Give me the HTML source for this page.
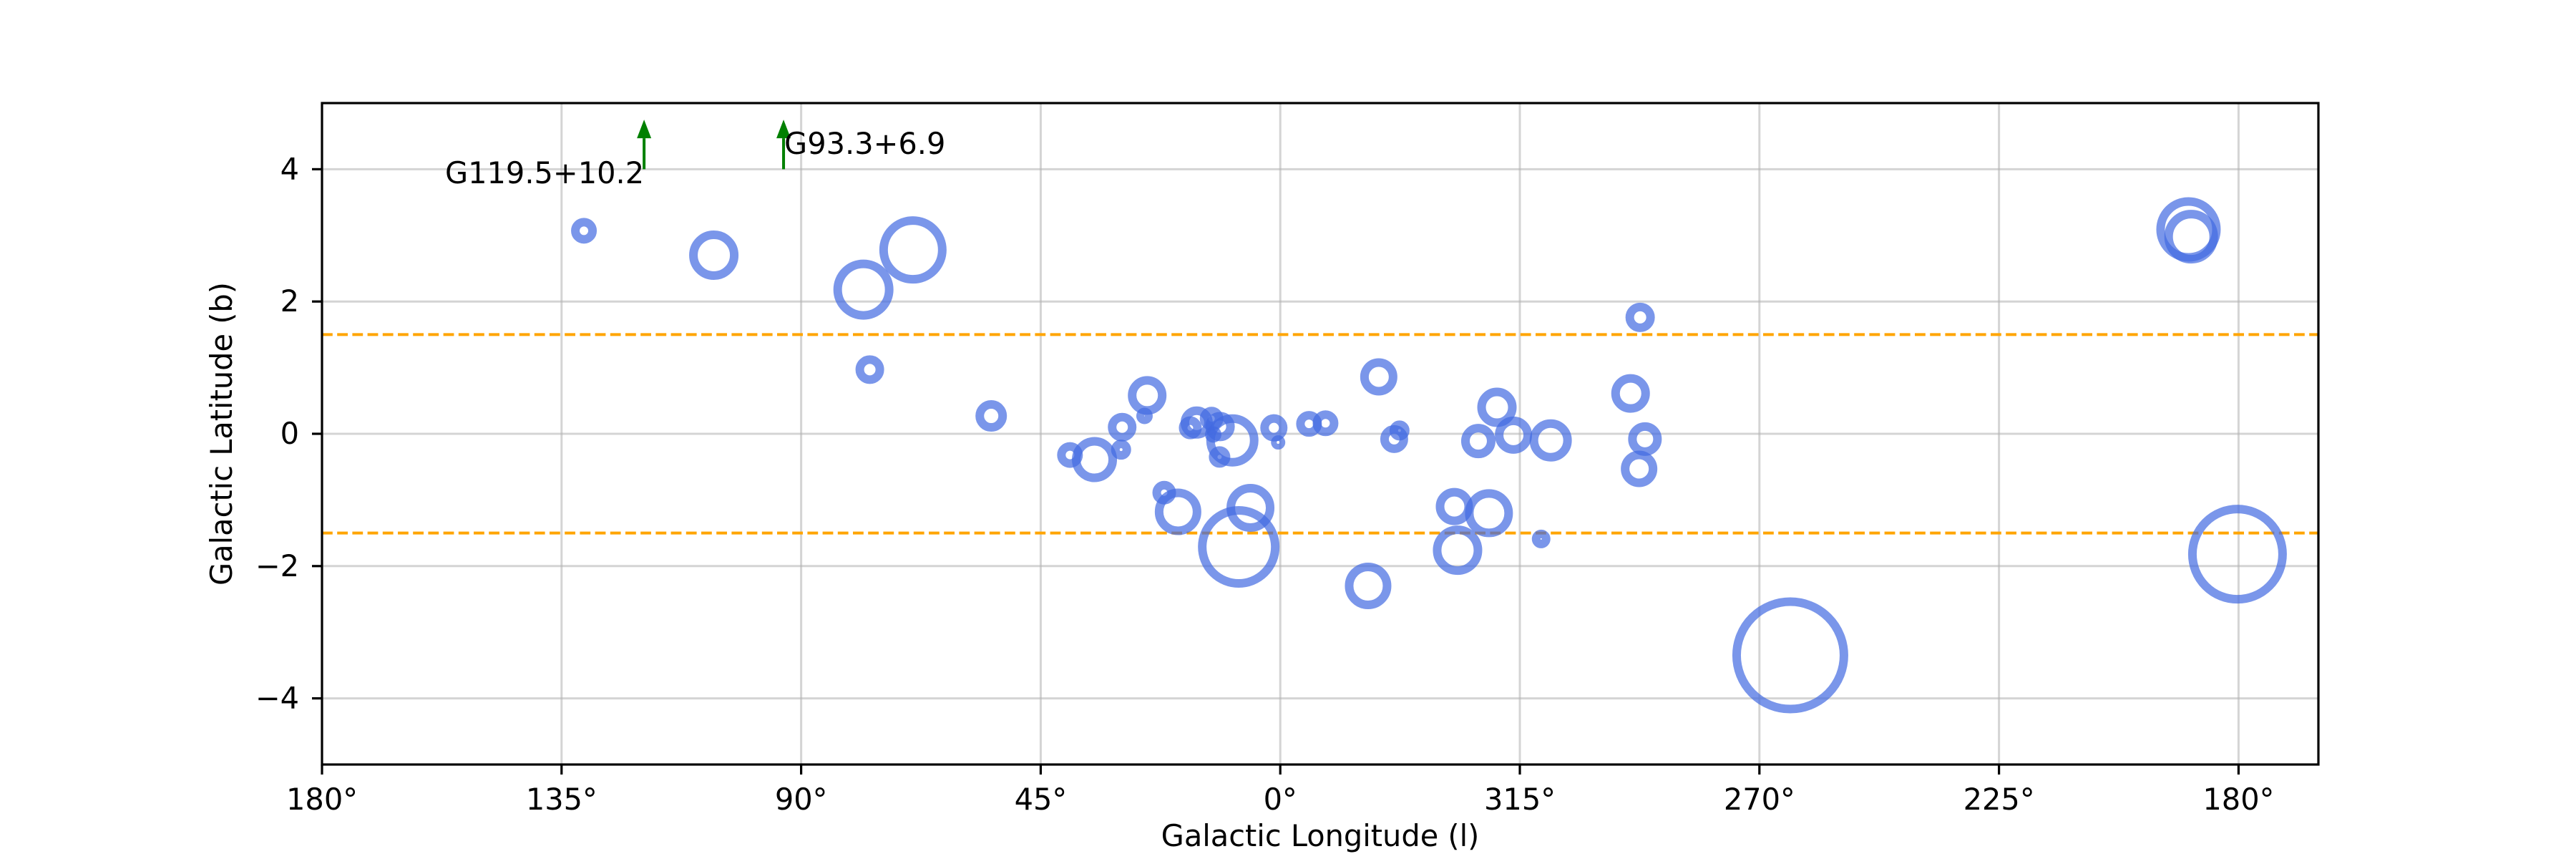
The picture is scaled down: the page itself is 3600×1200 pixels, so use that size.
<!DOCTYPE html>
<html><head><meta charset="utf-8"><style>
html,body{margin:0;padding:0;background:#fff;}
svg{display:block;font-family:"DejaVu Sans","Liberation Sans",sans-serif;}
</style></head><body>
<svg id="chart" width="3600" height="1200" viewBox="0 0 3600 1200" xmlns="http://www.w3.org/2000/svg">
<rect x="0" y="0" width="3600" height="1200" fill="#fff"/>
<g id="grid"></g>
<g id="refs"></g>
<g id="marks"></g>
<g id="annots"></g>
<g id="axes"></g>
</svg>
<script>
// ---- data ----
const lons = [130.8,106.4,78.3,69.0,77.1,54.3,39.5,34.9,29.7,29.9,25.0,25.5,15.7,16.9,12.9,11.3,12.6,9.0,11.4,1.2,0.4,354.6,351.5,341.5,338.6,337.6,319.3,322.8,316.2,309.2,21.8,19.2,5.6,7.8,343.5,327.3,320.8,326.7,311.0,292.4,294.2,291.5,292.6,264.2,180.2,189.4,188.9];
const lats = [3.07,2.70,2.18,2.78,0.97,0.27,-0.32,-0.39,0.10,-0.24,0.58,0.27,0.17,0.09,0.23,0.11,-0.01,-0.10,-0.35,0.09,-0.13,0.15,0.16,0.86,-0.08,0.05,0.40,-0.11,-0.02,-0.10,-0.89,-1.18,-1.12,-1.71,-2.30,-1.10,-1.20,-1.76,-1.59,1.76,0.61,-0.08,-0.53,-3.35,-1.82,3.09,2.98];
const sizes = [12,28.5,36,41,14,16,12,25.5,14,8,21,5.5,16.5,10,10.5,14.5,5.5,30.5,9,13,4,12,12,20,13.5,8,21.5,18,20,23.5,10.5,26.5,27.5,51,26.5,20,27.5,28.5,7,14.5,21,17.5,19.5,75,63,39,31.5];
const xTickVals = [180,135,90,45,0,-45,-90,-135,-180];
const xTickLabels = ["180°","135°","90°","45°","0°","315°","270°","225°","180°"];
const yTickVals = [-4,-2,0,2,4];
const yTickLabels = ["\u22124","\u22122","0","2","4"];
const refLats = [1.5,-1.5];
const annLons = [119.5,93.3];
const annNames = ["G119.5+10.2","G93.3+6.9"];

// ---- axes ----
const L=450,R=3240,T=144,B=1068;
const xmin=180,xmax=-195,ymin=-5,ymax=5;
const FS=41.5;
function wrap(l){return l>180?l-360:l;}
function sx(v){return L+(xmin-v)/(xmin-xmax)*(R-L);}
function sy(b){return B-(b-ymin)/(ymax-ymin)*(B-T);}
const NS="http://www.w3.org/2000/svg";
function mk(tag,attrs,parent){const e=document.createElementNS(NS,tag);for(const k in attrs)e.setAttribute(k,attrs[k]);parent.appendChild(e);return e;}
const grid=document.getElementById('grid'),refs=document.getElementById('refs'),marks=document.getElementById('marks'),annots=document.getElementById('annots'),axes=document.getElementById('axes');

xTickVals.forEach((v,i)=>{
  const x=sx(v);
  const g=mk('line',{x1:x,x2:x,y1:T,y2:B,stroke:'#b0b0b0','stroke-opacity':0.55,'stroke-width':3},grid);
  
  
  const t=mk('line',{x1:x,x2:x,y1:B,y2:B+14,stroke:'#000','stroke-width':3.2},axes);
  
  
  const lb=mk('text',{x:x,y:1131,'text-anchor':'middle','font-size':FS,fill:'#000'},axes);
  lb.textContent=xTickLabels[i];
  
  
});
yTickVals.forEach((v,i)=>{
  const y=sy(v);
  const g=mk('line',{x1:L,x2:R,y1:y,y2:y,stroke:'#b0b0b0','stroke-opacity':0.55,'stroke-width':3},grid);
  
  
  const t=mk('line',{x1:L-14,x2:L,y1:y,y2:y,stroke:'#000','stroke-width':3.2},axes);
  
  
  const lb=mk('text',{x:418,y:y+14,'text-anchor':'end','font-size':FS,fill:'#000'},axes);
  lb.textContent=yTickLabels[i];
  
  
});
refLats.forEach(b=>{
  const y=sy(b);
  const l=mk('line',{x1:L,x2:R,y1:y,y2:y,stroke:'#ffa500','stroke-width':4,'stroke-dasharray':'14.8 6.4'},refs);
  
  
});
lons.forEach((l,i)=>{
  const c=mk('circle',{cx:sx(wrap(l)),cy:sy(lats[i]),r:sizes[i],fill:'none',stroke:'#4169e1','stroke-opacity':0.7,'stroke-width':12},marks);
  
  
});
annLons.forEach((l,i)=>{
  const x=sx(wrap(l));
  const y0=sy(4),tip=sy(4.75),hb=tip+26;
  const ln=mk('line',{x1:x,x2:x,y1:y0,y2:hb,stroke:'#008000','stroke-width':4},annots);
  
  
  const hd=mk('polygon',{points:`${x-10},${hb} ${x+10},${hb} ${x},${tip}`,fill:'#008000'},annots);
  
  
  const t=i===0?mk('text',{x:x,y:256,'text-anchor':'end','font-size':FS,fill:'#000'},annots):mk('text',{x:x+1,y:215,'text-anchor':'start','font-size':FS,fill:'#000'},annots);
  t.textContent=annNames[i];
  
  
});
const fr=mk('rect',{x:L,y:T,width:R-L,height:B-T,fill:'none',stroke:'#000','stroke-width':3.2},axes);


const xl=mk('text',{x:(L+R)/2,y:1182,'text-anchor':'middle','font-size':FS,fill:'#000'},axes);
xl.textContent='Galactic Longitude (l)';


const yl=mk('text',{x:0,y:0,'text-anchor':'middle','font-size':FS,fill:'#000',transform:`translate(324,${(T+B)/2}) rotate(-90)`},axes);
yl.textContent='Galactic Latitude (b)';


</script>
</body></html>
